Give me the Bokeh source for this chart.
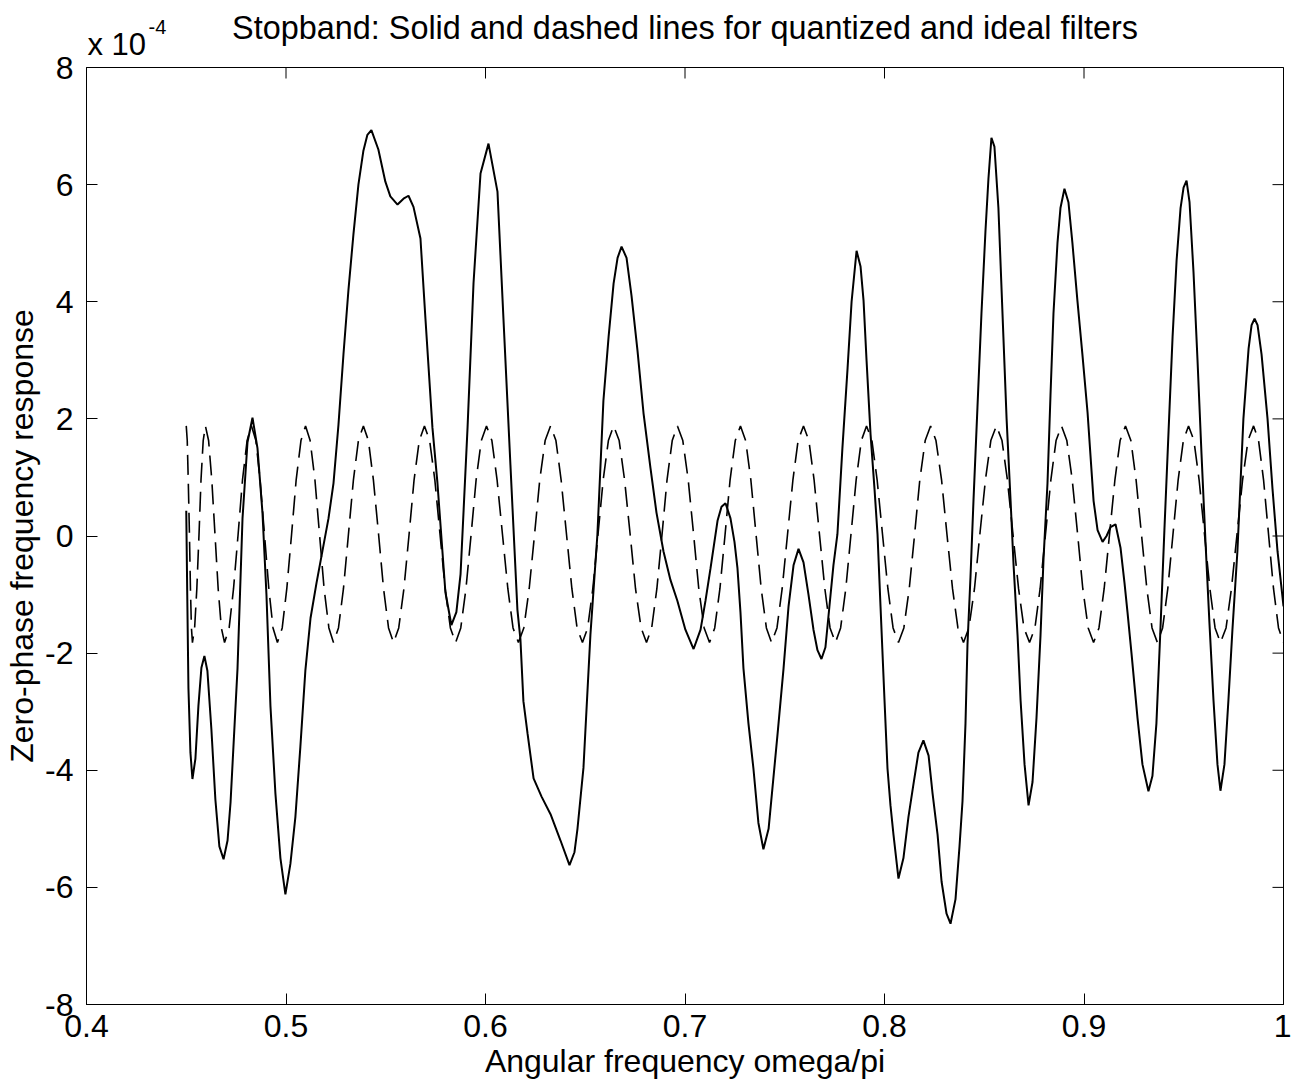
import math
from bokeh.plotting import figure
from bokeh.models import Range1d, FixedTicker, Title
from bokeh.embed import file_html
from bokeh.resources import INLINE

# ---------------- data (values in units of 1e-4) ----------------
x_tick_values = [0.4, 0.5, 0.6, 0.7, 0.8, 0.9, 1.0]
x_tick_labels = ["0.4", "0.5", "0.6", "0.7", "0.8", "0.9", "1"]
y_tick_values = [-8, -6, -4, -2, 0, 2, 4, 6, 8]
y_tick_labels = ["-8", "-6", "-4", "-2", "0", "2", "4", "6", "8"]

# quantized filter (solid line)
solid_x = [
    0.4500, 0.4505, 0.4511, 0.4521, 0.4531, 0.4546, 0.4561, 0.4576, 0.4591, 0.4606,
    0.4626, 0.4646, 0.4666, 0.4687, 0.4707, 0.4722, 0.4757, 0.4782, 0.4807, 0.4832,
    0.4857, 0.4882, 0.4902, 0.4922, 0.4947, 0.4972, 0.4997, 0.5022, 0.5047, 0.5072,
    0.5097, 0.5123, 0.5153, 0.5183, 0.5213, 0.5238, 0.5263, 0.5288, 0.5313, 0.5338,
    0.5363, 0.5388, 0.5408, 0.5428, 0.5463, 0.5498, 0.5523, 0.5559, 0.5589, 0.5614,
    0.5639, 0.5674, 0.5699, 0.5734, 0.5759, 0.5799, 0.5829, 0.5854, 0.5875, 0.5910,
    0.5940, 0.5975, 0.6015, 0.6060, 0.6090, 0.6125, 0.6160, 0.6175, 0.6190, 0.6211,
    0.6241, 0.6281, 0.6326, 0.6376, 0.6421, 0.6446, 0.6461, 0.6491, 0.6526, 0.6561,
    0.6591, 0.6617, 0.6642, 0.6662, 0.6682, 0.6707, 0.6732, 0.6762, 0.6792, 0.6827,
    0.6857, 0.6892, 0.6927, 0.6962, 0.7002, 0.7043, 0.7078, 0.7103, 0.7128, 0.7163,
    0.7183, 0.7203, 0.7228, 0.7248, 0.7263, 0.7278, 0.7293, 0.7318, 0.7343, 0.7368,
    0.7393, 0.7419, 0.7444, 0.7464, 0.7494, 0.7519, 0.7544, 0.7569, 0.7594, 0.7619,
    0.7644, 0.7664, 0.7684, 0.7704, 0.7724, 0.7744, 0.7764, 0.7789, 0.7815, 0.7835,
    0.7860, 0.7880, 0.7895, 0.7910, 0.7930, 0.7950, 0.7965, 0.7980, 0.8000, 0.8015,
    0.8030, 0.8045, 0.8070, 0.8095, 0.8120, 0.8145, 0.8170, 0.8195, 0.8221, 0.8241,
    0.8266, 0.8286, 0.8311, 0.8331, 0.8356, 0.8376, 0.8391, 0.8406, 0.8416, 0.8431,
    0.8446, 0.8466, 0.8486, 0.8506, 0.8521, 0.8536, 0.8551, 0.8571, 0.8596, 0.8612,
    0.8632, 0.8647, 0.8667, 0.8682, 0.8702, 0.8722, 0.8742, 0.8762, 0.8782, 0.8797,
    0.8817, 0.8832, 0.8847, 0.8867, 0.8882, 0.8902, 0.8922, 0.8942, 0.8967, 0.8992,
    0.9018, 0.9048, 0.9068, 0.9093, 0.9113, 0.9133, 0.9158, 0.9183, 0.9203, 0.9218,
    0.9238, 0.9268, 0.9293, 0.9323, 0.9343, 0.9363, 0.9383, 0.9403, 0.9424, 0.9444,
    0.9464, 0.9484, 0.9499, 0.9514, 0.9529, 0.9549, 0.9569, 0.9589, 0.9609, 0.9629,
    0.9649, 0.9669, 0.9684, 0.9704, 0.9724, 0.9744, 0.9769, 0.9799, 0.9825, 0.9840,
    0.9855, 0.9870, 0.9890, 0.9920, 0.9945, 0.9970, 1.0000,
]
solid_y = [
    0.43, -1.0, -2.6, -3.7, -4.15, -3.8, -2.9, -2.25, -2.05, -2.3,
    -3.3, -4.5, -5.3, -5.52, -5.2, -4.55, -2.26, 0.3, 1.6, 2.02,
    1.5, 0.4, -1.0, -2.9, -4.4, -5.5, -6.12, -5.6, -4.8, -3.6,
    -2.3, -1.4, -0.8, -0.25, 0.3, 0.9, 1.9, 3.1, 4.2, 5.15,
    6.0, 6.58, 6.85, 6.93, 6.6, 6.05, 5.8, 5.66, 5.76, 5.81,
    5.62, 5.08, 3.71, 1.85, 0.91, -0.96, -1.52, -1.3, -0.65, 1.85,
    4.32, 6.19, 6.70, 5.88, 3.71, 1.21, -1.26, -1.76, -2.82, -3.38,
    -4.14, -4.45, -4.75, -5.2, -5.62, -5.4, -5.0, -3.96, -1.68, 0.03,
    2.31, 3.4, 4.31, 4.75, 4.94, 4.75, 4.1, 3.16, 2.1, 1.16,
    0.4, -0.26, -0.75, -1.11, -1.6, -1.93, -1.6, -1.1, -0.55, 0.26,
    0.5, 0.56, 0.3, -0.1, -0.55, -1.3, -2.26, -3.2, -3.97, -4.9,
    -5.35, -5.0, -4.1, -3.38, -2.26, -1.2, -0.5, -0.22, -0.45, -1.0,
    -1.6, -1.95, -2.1, -1.9, -1.2, -0.5, 0.03, 1.5, 2.87, 4.0,
    4.87, 4.6, 4.02, 3.0, 1.74, 0.8, 0.03, -1.2, -2.8, -3.97,
    -4.6, -5.1, -5.85, -5.5, -4.8, -4.24, -3.7, -3.49, -3.75, -4.4,
    -5.1, -5.9, -6.45, -6.62, -6.2, -5.3, -4.53, -3.2, -1.85, -0.7,
    0.6, 2.2, 3.8, 5.2, 6.1, 6.8, 6.65, 5.6, 3.4, 2.0,
    0.6, -0.5, -1.7, -2.8, -3.9, -4.6, -4.2, -3.1, -1.7, -0.4,
    0.9, 2.4, 3.8, 5.0, 5.6, 5.93, 5.7, 5.0, 4.02, 3.1,
    2.1, 0.6, 0.1, -0.1, 0.0, 0.15, 0.2, -0.2, -0.8, -1.3,
    -2.0, -3.1, -3.9, -4.36, -4.1, -3.2, -1.6, 0.1, 1.8, 3.4,
    4.7, 5.6, 5.95, 6.07, 5.7, 4.5, 3.0, 1.4, -0.1, -1.5,
    -2.8, -3.9, -4.35, -3.9, -2.8, -1.6, -0.26, 2.0, 3.2, 3.6,
    3.71, 3.6, 3.1, 2.0, 0.8, -0.26, -1.2,
]

# ideal filter (dashed line)
dashed_x = [
    0.4500, 0.4505, 0.4510, 0.4516, 0.4521, 0.4526,
    0.4531, 0.4542, 0.4553, 0.4564, 0.4574, 0.4585,
    0.4596, 0.4612, 0.4628, 0.4644, 0.4660, 0.4676,
    0.4692, 0.4715, 0.4737, 0.4760, 0.4782, 0.4805,
    0.4827, 0.4849, 0.4870, 0.4892, 0.4914, 0.4935,
    0.4957, 0.4981, 0.5004, 0.5028, 0.5051, 0.5075,
    0.5098, 0.5121, 0.5145, 0.5168, 0.5191, 0.5215,
    0.5238, 0.5263, 0.5288, 0.5313, 0.5338, 0.5363,
    0.5388, 0.5413, 0.5438, 0.5464, 0.5489, 0.5514,
    0.5539, 0.5565, 0.5591, 0.5617, 0.5642, 0.5668,
    0.5694, 0.5720, 0.5746, 0.5772, 0.5798, 0.5824,
    0.5850, 0.5876, 0.5902, 0.5928, 0.5953, 0.5979,
    0.6005, 0.6032, 0.6058, 0.6085, 0.6112, 0.6138,
    0.6165, 0.6192, 0.6219, 0.6246, 0.6272, 0.6299,
    0.6326, 0.6353, 0.6379, 0.6406, 0.6433, 0.6459,
    0.6486, 0.6512, 0.6538, 0.6564, 0.6590, 0.6616,
    0.6642, 0.6670, 0.6697, 0.6725, 0.6752, 0.6780,
    0.6807, 0.6833, 0.6859, 0.6885, 0.6910, 0.6936,
    0.6962, 0.6989, 0.7016, 0.7043, 0.7069, 0.7096,
    0.7123, 0.7149, 0.7175, 0.7201, 0.7226, 0.7252,
    0.7278, 0.7304, 0.7330, 0.7356, 0.7382, 0.7408,
    0.7434, 0.7461, 0.7487, 0.7514, 0.7541, 0.7567,
    0.7594, 0.7621, 0.7647, 0.7674, 0.7701, 0.7727,
    0.7754, 0.7780, 0.7806, 0.7832, 0.7858, 0.7884,
    0.7910, 0.7937, 0.7963, 0.7990, 0.8017, 0.8043,
    0.8070, 0.8097, 0.8124, 0.8151, 0.8177, 0.8204,
    0.8231, 0.8258, 0.8286, 0.8313, 0.8341, 0.8368,
    0.8396, 0.8423, 0.8451, 0.8478, 0.8506, 0.8533,
    0.8561, 0.8589, 0.8616, 0.8644, 0.8672, 0.8699,
    0.8727, 0.8754, 0.8780, 0.8807, 0.8834, 0.8860,
    0.8887, 0.8914, 0.8941, 0.8968, 0.8994, 0.9021,
    0.9048, 0.9075, 0.9101, 0.9128, 0.9155, 0.9181,
    0.9208, 0.9235, 0.9261, 0.9288, 0.9315, 0.9341,
    0.9368, 0.9394, 0.9420, 0.9446, 0.9472, 0.9498,
    0.9524, 0.9551, 0.9577, 0.9604, 0.9631, 0.9657,
    0.9684, 0.9712, 0.9739, 0.9767, 0.9795, 0.9822,
    0.9850, 0.9875, 0.9900, 0.9925, 0.9950, 0.9975,
    1.0000,
]
dashed_y = [
    1.88, 1.63, 0.96, 0.03, -0.90, -1.57,
    -1.82, -1.57, -0.90, 0.03, 0.96, 1.63,
    1.88, 1.63, 0.96, 0.03, -0.90, -1.57,
    -1.82, -1.57, -0.90, 0.03, 0.96, 1.63,
    1.88, 1.63, 0.96, 0.03, -0.90, -1.57,
    -1.82, -1.57, -0.90, 0.03, 0.96, 1.63,
    1.88, 1.63, 0.96, 0.03, -0.90, -1.57,
    -1.82, -1.57, -0.90, 0.03, 0.96, 1.63,
    1.88, 1.63, 0.96, 0.03, -0.90, -1.57,
    -1.82, -1.57, -0.90, 0.03, 0.96, 1.63,
    1.88, 1.63, 0.96, 0.03, -0.90, -1.57,
    -1.82, -1.57, -0.90, 0.03, 0.96, 1.63,
    1.88, 1.63, 0.96, 0.03, -0.90, -1.57,
    -1.82, -1.57, -0.90, 0.03, 0.96, 1.63,
    1.88, 1.63, 0.96, 0.03, -0.90, -1.57,
    -1.82, -1.57, -0.90, 0.03, 0.96, 1.63,
    1.88, 1.63, 0.96, 0.03, -0.90, -1.57,
    -1.82, -1.57, -0.90, 0.03, 0.96, 1.63,
    1.88, 1.63, 0.96, 0.03, -0.90, -1.57,
    -1.82, -1.57, -0.90, 0.03, 0.96, 1.63,
    1.88, 1.63, 0.96, 0.03, -0.90, -1.57,
    -1.82, -1.57, -0.90, 0.03, 0.96, 1.63,
    1.88, 1.63, 0.96, 0.03, -0.90, -1.57,
    -1.82, -1.57, -0.90, 0.03, 0.96, 1.63,
    1.88, 1.63, 0.96, 0.03, -0.90, -1.57,
    -1.82, -1.57, -0.90, 0.03, 0.96, 1.63,
    1.88, 1.63, 0.96, 0.03, -0.90, -1.57,
    -1.82, -1.57, -0.90, 0.03, 0.96, 1.63,
    1.88, 1.63, 0.96, 0.03, -0.90, -1.57,
    -1.82, -1.57, -0.90, 0.03, 0.96, 1.63,
    1.88, 1.63, 0.96, 0.03, -0.90, -1.57,
    -1.82, -1.57, -0.90, 0.03, 0.96, 1.63,
    1.88, 1.63, 0.96, 0.03, -0.90, -1.57,
    -1.82, -1.57, -0.90, 0.03, 0.96, 1.63,
    1.88, 1.63, 0.96, 0.03, -0.90, -1.57,
    -1.82, -1.57, -0.90, 0.03, 0.96, 1.63,
    1.88, 1.63, 0.96, 0.03, -0.90, -1.57,
    -1.82,
]

title_text = "Stopband: Solid and dashed lines for quantized and ideal filters"
scale_text = "x 10"
exponent_text = "-4"
x_label = "Angular frequency omega/pi"
y_label = "Zero-phase frequency response"

FONT = "Liberation Sans"
X0, X1 = 0.4, 1.0
Y0, Y1 = -8, 8

# ---------------- figure ----------------
p = figure(width=1291, height=1089, output_backend="svg", toolbar_location=None,
           x_range=Range1d(X0, X1), y_range=Range1d(Y0, Y1),
           min_border_left=86, min_border_right=8, min_border_top=67,
           min_border_bottom=85)
p.background_fill_color = "white"
p.border_fill_color = "white"
p.outline_line_color = "black"
p.outline_line_width = 1
p.grid.visible = False

# scale factor note "x 10^-4" just above the top-left corner of the box
p.add_layout(Title(text=scale_text, align="left", offset=1, standoff=11,
                   text_font=FONT, text_font_size="31px",
                   text_font_style="normal", text_color="black"), "above")
p.add_layout(Title(text=exponent_text, align="left", offset=62, standoff=-29,
                   text_font=FONT, text_font_size="20px",
                   text_font_style="normal", text_color="black"), "above")

# main title (pulled down so it sits level with the scale note, as in the original)
p.title.text = title_text
p.title.align = "center"
p.title.text_font = FONT
p.title.text_font_size = "32.4px"
p.title.text_font_style = "normal"
p.title.text_color = "black"
p.title.standoff = -52


def style_axis(ax, ticks, labels, standoff):
    ax.ticker = FixedTicker(ticks=ticks)
    ax.major_tick_in = 11
    ax.major_tick_out = 0
    ax.minor_tick_in = 0
    ax.minor_tick_out = 0
    ax.axis_line_color = "black"
    ax.major_tick_line_color = "black"
    ax.major_label_overrides = {v: s for v, s in zip(ticks, labels)}
    ax.major_label_text_font = FONT
    ax.major_label_text_font_size = "32px"
    ax.major_label_text_color = "black"
    ax.major_label_standoff = standoff
    ax.axis_label_text_font = FONT
    ax.axis_label_text_font_size = "32px"
    ax.axis_label_text_font_style = "normal"
    ax.axis_label_text_color = "black"


xa = p.xaxis[0]
style_axis(xa, x_tick_values, x_tick_labels, 10)
xa.axis_label = x_label
xa.axis_label_standoff = 3

ya = p.yaxis[0]
style_axis(ya, y_tick_values, y_tick_labels, 13)
ya.major_label_orientation = "horizontal"
ya.axis_label = y_label
ya.axis_label_standoff = 2

# inward tick marks on the top and right edges of the box (half of each mark is clipped)
p.scatter([t for t in x_tick_values], [Y1] * len(x_tick_values), marker="dash",
          size=22, angle=math.pi / 2, line_color="black", line_width=1)
p.scatter([X1] * len(y_tick_values), [t for t in y_tick_values], marker="dash",
          size=22, angle=0, line_color="black", line_width=1)

# ---------------- curves ----------------
p.line(dashed_x, dashed_y, line_color="black", line_width=1.6, line_dash="20 9")
p.line(solid_x, solid_y, line_color="black", line_width=2)

open("out.html", "w").write(file_html(p, INLINE))
